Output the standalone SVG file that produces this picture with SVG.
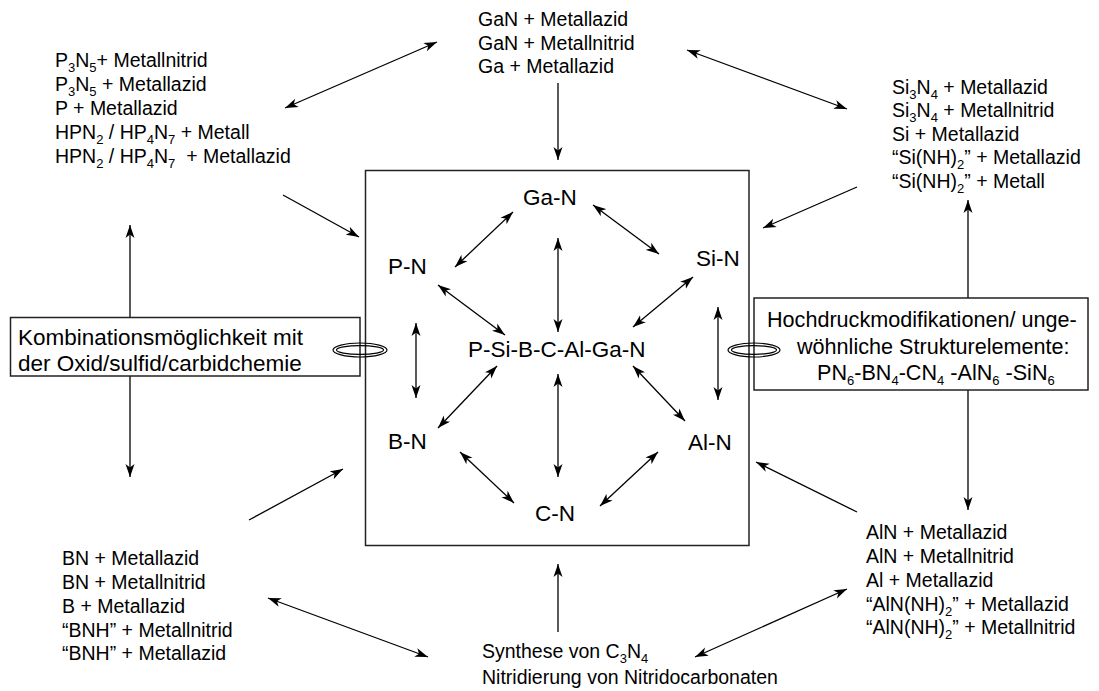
<svg xmlns="http://www.w3.org/2000/svg" width="1099" height="691" viewBox="0 0 1099 691">
<style>
text{font-family:"Liberation Sans",Arial,Helvetica,sans-serif;fill:#000;white-space:pre}
.o{font-size:19.5px}
.c{font-size:22.5px}
.r{font-size:21.6px}
.s{font-size:13px}
.ln{stroke:#000;stroke-width:1.3;fill:none}
.a1{marker-end:url(#ah)}
.a2{marker-start:url(#ah);marker-end:url(#ah)}
.box{fill:#fff;stroke:#222;stroke-width:1.5}
.ring{fill:none;stroke:#000;stroke-width:1.2}
</style>
<defs>
<marker id="ah" markerUnits="userSpaceOnUse" markerWidth="14" markerHeight="10" refX="13" refY="5" orient="auto-start-reverse">
<path d="M0,0.5 L13,5 L0,9.5 L3.5,5 Z" fill="#000"/>
</marker>
</defs>
<rect width="1099" height="691" fill="#fff"/>

<g id="connectors">
<line class="ln a2" x1="130" y1="225" x2="130" y2="477"/>
<line class="ln a2" x1="968" y1="200" x2="968" y2="510"/>
<line class="ln a2" x1="285" y1="108" x2="437" y2="42"/>
<line class="ln a2" x1="687" y1="50" x2="847" y2="109"/>
<line class="ln a1" x1="558" y1="83" x2="558" y2="160"/>
<line class="ln a1" x1="283" y1="195" x2="359" y2="237"/>
<line class="ln a1" x1="857" y1="187" x2="763" y2="228"/>
<line class="ln a1" x1="249" y1="520" x2="343" y2="469"/>
<line class="ln a1" x1="857" y1="512" x2="756" y2="462"/>
<line class="ln a1" x1="558" y1="632" x2="558" y2="564"/>
<line class="ln a2" x1="268" y1="598" x2="428" y2="657"/>
<line class="ln a2" x1="847" y1="589" x2="695" y2="657"/>
<line class="ln a2" x1="513" y1="212" x2="455" y2="267"/>
<line class="ln a2" x1="593" y1="205" x2="659" y2="254"/>
<line class="ln a2" x1="558" y1="238" x2="558" y2="332"/>
<line class="ln a2" x1="438" y1="285" x2="505" y2="335"/>
<line class="ln a2" x1="693" y1="277" x2="633" y2="327"/>
<line class="ln a2" x1="416" y1="323" x2="416" y2="398"/>
<line class="ln a2" x1="718" y1="307" x2="718" y2="400"/>
<line class="ln a2" x1="497" y1="366" x2="438" y2="428"/>
<line class="ln a2" x1="633" y1="366" x2="685" y2="421"/>
<line class="ln a2" x1="558" y1="374" x2="558" y2="477"/>
<line class="ln a2" x1="460" y1="452" x2="514" y2="503"/>
<line class="ln a2" x1="658" y1="452" x2="600" y2="506"/>
</g>

<g id="center-box">
<rect x="365.5" y="170.5" width="383.5" height="375" fill="none" stroke="#222" stroke-width="1.5"/>
</g>

<g id="n-ga"><text class="c" x="523" y="205">Ga-N</text></g>
<g id="n-p"><text class="c" x="388" y="274">P-N</text></g>
<g id="n-si"><text class="c" x="696" y="266">Si-N</text></g>
<g id="n-center"><text class="c" x="468" y="357">P-Si-B-C-Al-Ga-N</text></g>
<g id="n-b"><text class="c" x="388" y="449">B-N</text></g>
<g id="n-al"><text class="c" x="688" y="450">Al-N</text></g>
<g id="n-c"><text class="c" x="535" y="521">C-N</text></g>

<g id="left-box">
<rect class="box" x="10.5" y="317.5" width="349.5" height="58.5"/>
<text class="c" x="18" y="345">Kombinationsmöglichkeit mit</text>
<text class="c" x="18" y="371">der Oxid/sulfid/carbidchemie</text>
</g>

<g id="right-box">
<rect class="box" x="754" y="298" width="334" height="92"/>
<text class="r" x="767" y="327">Hochdruckmodifikationen/ unge-</text>
<text class="r" x="797" y="354">wöhnliche Strukturelemente:</text>
<text class="r" x="817" y="380">PN<tspan class="s" dy="5">6</tspan><tspan dy="-5">-BN</tspan><tspan class="s" dy="5">4</tspan><tspan dy="-5">-CN</tspan><tspan class="s" dy="5">4</tspan><tspan dy="-5"> -AlN</tspan><tspan class="s" dy="5">6</tspan><tspan dy="-5"> -SiN</tspan><tspan class="s" dy="5">6</tspan></text>
</g>

<g id="ring-left">
<ellipse class="ring" cx="360" cy="350" rx="27" ry="7"/>
<ellipse class="ring" cx="360" cy="350" rx="23.5" ry="4.3"/>
</g>
<g id="ring-right">
<ellipse class="ring" cx="754" cy="350" rx="26" ry="7"/>
<ellipse class="ring" cx="754" cy="350" rx="22.5" ry="4.3"/>
</g>

<g id="top-ga">
<text class="o" x="478" y="26">GaN + Metallazid</text>
<text class="o" x="478" y="50">GaN + Metallnitrid</text>
<text class="o" x="478" y="73">Ga + Metallazid</text>
</g>

<g id="top-p">
<text class="o" x="55" y="67">P<tspan class="s" dy="5">3</tspan><tspan dy="-5">N</tspan><tspan class="s" dy="5">5</tspan><tspan dy="-5">+ Metallnitrid</tspan></text>
<text class="o" x="55" y="91">P<tspan class="s" dy="5">3</tspan><tspan dy="-5">N</tspan><tspan class="s" dy="5">5</tspan><tspan dy="-5"> + Metallazid</tspan></text>
<text class="o" x="55" y="115">P + Metallazid</text>
<text class="o" x="55" y="139">HPN<tspan class="s" dy="5">2</tspan><tspan dy="-5"> / HP</tspan><tspan class="s" dy="5">4</tspan><tspan dy="-5">N</tspan><tspan class="s" dy="5">7</tspan><tspan dy="-5"> + Metall</tspan></text>
<text class="o" x="55" y="163">HPN<tspan class="s" dy="5">2</tspan><tspan dy="-5"> / HP</tspan><tspan class="s" dy="5">4</tspan><tspan dy="-5">N</tspan><tspan class="s" dy="5">7</tspan><tspan dy="-5">  + Metallazid</tspan></text>
</g>

<g id="top-si">
<text class="o" x="892" y="94">Si<tspan class="s" dy="5">3</tspan><tspan dy="-5">N</tspan><tspan class="s" dy="5">4</tspan><tspan dy="-5"> + Metallazid</tspan></text>
<text class="o" x="892" y="117">Si<tspan class="s" dy="5">3</tspan><tspan dy="-5">N</tspan><tspan class="s" dy="5">4</tspan><tspan dy="-5"> + Metallnitrid</tspan></text>
<text class="o" x="892" y="141">Si + Metallazid</text>
<text class="o" x="892" y="164">“Si(NH)<tspan class="s" dy="5">2</tspan><tspan dy="-5">” + Metallazid</tspan></text>
<text class="o" x="892" y="188">“Si(NH)<tspan class="s" dy="5">2</tspan><tspan dy="-5">” + Metall</tspan></text>
</g>

<g id="bottom-b">
<text class="o" x="62" y="565">BN + Metallazid</text>
<text class="o" x="62" y="589">BN + Metallnitrid</text>
<text class="o" x="62" y="613">B + Metallazid</text>
<text class="o" x="62" y="637">“BNH” + Metallnitrid</text>
<text class="o" x="62" y="660">“BNH” + Metallazid</text>
</g>

<g id="bottom-al">
<text class="o" x="866" y="539">AlN + Metallazid</text>
<text class="o" x="866" y="563">AlN + Metallnitrid</text>
<text class="o" x="866" y="587">Al + Metallazid</text>
<text class="o" x="866" y="611">“AlN(NH)<tspan class="s" dy="5">2</tspan><tspan dy="-5">” + Metallazid</tspan></text>
<text class="o" x="866" y="634">“AlN(NH)<tspan class="s" dy="5">2</tspan><tspan dy="-5">” + Metallnitrid</tspan></text>
</g>

<g id="bottom-c">
<text class="o" x="482" y="658">Synthese von C<tspan class="s" dy="5">3</tspan><tspan dy="-5">N</tspan><tspan class="s" dy="5">4</tspan></text>
<text class="o" x="482" y="684">Nitridierung von Nitridocarbonaten</text>
</g>
</svg>
